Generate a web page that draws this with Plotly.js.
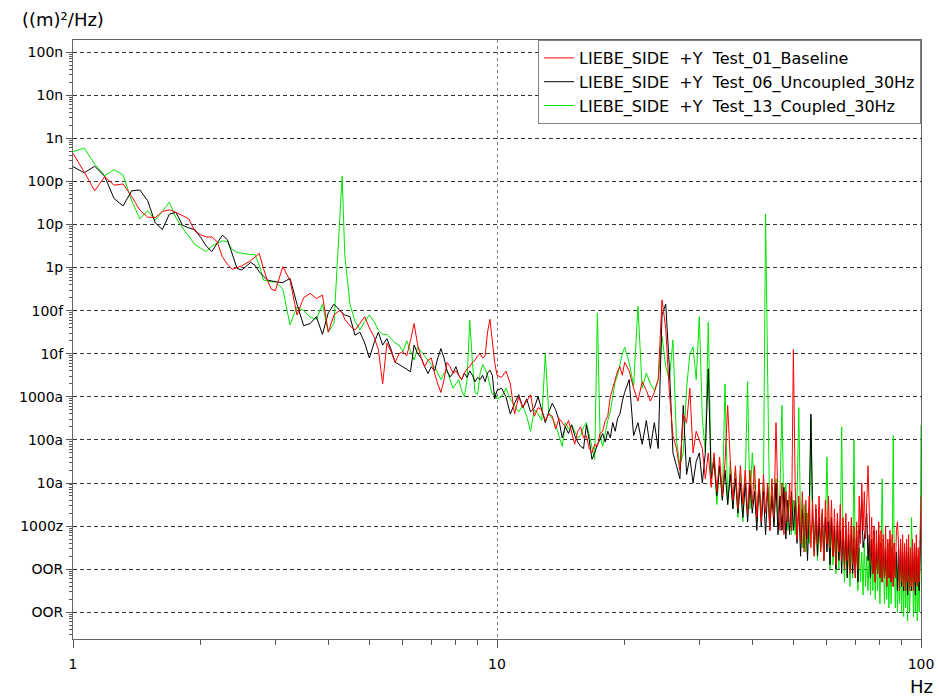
<!DOCTYPE html>
<html>
<head>
<meta charset="utf-8">
<script src="https://cdn.plot.ly/plotly-3.0.1.min.js"></script>
<style>html,body{margin:0;padding:0;background:#fff;}#chart{width:939px;height:697px;}</style>
</head>
<body>
<div id="chart"></div>
<script>
// Frequency axis (Hz)
const freqHz = [
 1,1.0625,1.125,1.1875,1.25,1.3125,1.375,1.4375,1.5,1.5625,1.625,1.6875,1.75,1.8125,1.875,1.9375,2,2.0625,2.125,2.1875,2.25,2.3125,2.375,2.4375,2.5,2.5625,2.625,2.6875,2.75,2.8125,2.875,2.9375,3,
 3.125,3.25,3.375,3.5,3.625,3.75,3.875,4,4.125,4.25,4.3125,4.375,4.5,4.625,4.75,4.875,5,5.125,5.25,5.375,5.5,5.625,5.75,5.875,6,
 6.125,6.25,6.375,6.5,6.625,6.75,6.875,7,7.125,7.25,7.375,7.5,7.625,7.75,7.875,8,8.125,8.25,8.375,8.5,8.625,8.75,8.875,9,9.125,9.25,9.375,9.5,9.625,9.75,9.875,10,
 10.25,10.5,10.75,11,11.25,11.5,11.75,12,12.25,12.5,12.75,13,13.25,13.5,13.75,14,14.25,14.5,14.75,15,15.25,15.5,15.75,16,16.25,16.5,16.75,17,17.25,17.5,17.75,18,18.25,18.5,18.75,19,19.25,19.5,19.75,20,
 20.5,21,21.5,22,22.5,23,23.5,24,24.5,25,25.5,26,26.5,27,27.5,28,28.5,29,29.5,30,30.5,31,31.5,32,32.5,33,33.5,34,34.5,35,35.5,36,36.5,37,37.5,38,38.5,39,39.5,40,
 40.5,41,41.5,42,42.5,43,43.5,44,44.5,45,
 45.5,46,46.5,47,47.5,48,48.5,49,49.5,50,
 50.5,51,51.5,52,52.5,53,53.5,54,54.5,55,
 55.5,56,56.5,57,57.5,58,58.5,59,59.5,60,
 60.5,61,61.5,62,62.5,63,63.5,64,64.5,65,
 65.5,66,66.5,67,67.5,68,68.5,69,69.5,70,
 70.5,71,71.5,72,72.5,73,73.5,74,74.5,75,
 75.5,76,76.5,77,77.5,78,78.5,79,79.5,80,
 80.5,81,81.5,82,82.5,83,83.5,84,84.5,85,
 85.5,86,86.5,87,87.5,88,88.5,89,89.5,90,
 90.5,91,91.5,92,92.5,93,93.5,94,94.5,95,
 95.5,96,96.5,97,97.5,98,98.5,99,99.5,100
];

// PSD values as log10 of ((m)^2/Hz)
const baselineLog10 = [
 -9.35,-9.78,-10.22,-9.89,-10.09,-10.06,-10.35,-10.67,-10.83,-10.84,-10.7,-10.66,-10.72,-10.8,-10.87,-11.15,-11.24,-11.29,-11.29,-11.4,-11.75,-11.92,-12.04,-12.0,-11.96,-11.9,-11.84,-11.76,-11.67,-12.02,-12.3,-12.5,-12.54,
 -11.98,-12.3,-13.1,-12.7,-12.6,-12.72,-12.64,-13.5,-13.1,-13.0,-13.05,-13.2,-13.35,-13.45,-13.3,-13.14,-13.4,-13.6,-13.9,-14.7,-13.75,-13.95,-14.2,-14.0,-13.95,
 -14.05,-13.7,-13.3,-13.8,-14.1,-14.3,-14.15,-14.1,-14.45,-14.7,-14.9,-14.6,-14.2,-14.3,-14.45,-14.4,-14.5,-14.6,-14.45,-14.35,-14.3,-14.2,-14.15,-14.05,-14.0,-14.1,-14.05,-13.5,-13.2,-13.8,-14.2,-14.5,
 -14.55,-14.4,-14.7,-15.4,-15.0,-15.25,-15.1,-14.95,-15.45,-15.25,-15.3,-15.55,-15.4,-15.45,-15.75,-15.5,-15.6,-15.7,-15.55,-15.85,-16.1,-15.8,-15.7,-15.95,-15.9,-16.2,-16.3,-16.1,-16.15,-15.85,-15.8,-15.55,-15.45,-15.0,-14.8,-14.6,-14.4,-14.3,-14.5,-14.2,
 -14.4,-14.8,-15.1,-14.65,-14.85,-15.1,-14.9,-14.6,-12.75,-13.4,-14.9,-15.9,-16.2,-16.7,-15.4,-15.6,-14.8,-16.3,-15.8,-16.0,
 -16.2,-16.9,-16.3,-17.1,-16.3,-17.2,-16.4,-17.3,-16.5,-15.2,-16.5,-17.4,-16.6,-17.6,-16.6,-17.5,-16.7,-17.7,-16.7,-17.5,
 -16.6,-17.8,-16.9,-17.9,-16.8,-17.7,-17.0,-18.1,-16.9,-17.8,
 -15.6,-17.5,-18.1,-17.0,-18.2,-17.2,-17.9,-17.0,-18.1,-13.9,
 -17.1,-18.3,-17.3,-18.4,-17.2,-18.6,-17.4,-18.3,-17.3,-18.5,
 -17.4,-18.7,-17.5,-18.4,-17.3,-18.6,-17.6,-18.8,-17.4,-18.4,
 -17.3,-18.5,-17.4,-18.7,-17.6,-18.9,-17.7,-18.6,-17.5,-18.8,
 -17.8,-19.0,-17.7,-18.8,-17.9,-19.1,-17.8,-18.9,-18.0,-19.2,
 -17.9,-19.0,-17.3,-18.4,-17.0,-18.1,-17.2,-18.3,-17.3,-16.6,
 -17.6,-18.9,-17.8,-19.1,-18.0,-19.3,-18.1,-19.1,-17.9,-19.2,
 -18.1,-19.3,-18.2,-19.2,-18.0,-19.4,-18.3,-19.2,-18.1,-19.3,
 -18.2,-19.4,-18.4,-19.2,-18.1,-17.9,-18.4,-19.5,-18.3,-19.3,
 -18.2,-19.4,-18.4,-19.5,-18.3,-19.3,-18.2,-19.5,-18.5,-19.4,
 -18.3,-19.5,-18.4,-19.3,-18.2,-19.4,-18.5,-19.3,-18.3,-17.3
];
const uncoupledLog10 = [
 -9.66,-9.8,-9.65,-9.88,-10.4,-10.57,-10.22,-10.2,-10.45,-10.96,-11.12,-10.76,-10.72,-11.02,-11.08,-11.12,-11.3,-11.5,-11.63,-11.42,-11.25,-11.35,-11.7,-12.02,-12.06,-11.96,-11.88,-11.95,-12.1,-12.2,-12.29,-12.31,-12.33,
 -12.35,-12.25,-12.85,-13.35,-13.3,-13.14,-13.55,-13.05,-12.85,-13.0,-13.05,-13.1,-13.14,-13.57,-13.5,-13.75,-14.1,-13.76,-13.5,-13.8,-13.65,-13.9,-14.2,-14.25,-14.3,
 -14.36,-14.42,-13.8,-14.0,-14.1,-14.3,-14.46,-14.3,-14.4,-14.1,-13.88,-14.1,-14.4,-14.54,-14.45,-14.3,-14.5,-14.6,-14.45,-14.55,-14.4,-14.5,-14.65,-14.55,-14.6,-14.5,-14.65,-14.45,-14.38,-14.5,-15.05,-14.85,
 -14.8,-15.0,-15.4,-15.15,-14.95,-15.25,-15.05,-15.35,-15.25,-15.0,-15.3,-15.6,-15.35,-15.15,-15.3,-15.55,-15.95,-15.7,-15.85,-15.65,-15.9,-16.05,-16.15,-16.2,-15.65,-16.0,-16.45,-16.3,-16.1,-16.0,-15.85,-16.05,-15.8,-15.95,-15.6,-15.8,-15.5,-15.4,-15.1,-14.9,
 -14.6,-15.9,-15.6,-16.1,-15.55,-16.2,-15.6,-16.2,-13.1,-12.85,-14.3,-16.3,-16.6,-16.9,-15.2,-16.8,-16.4,-17.0,-16.5,-16.3,
 -17.0,-16.3,-14.35,-16.9,-16.5,-17.3,-16.6,-17.4,-16.7,-17.5,-16.8,-17.6,-16.9,-17.7,-17.0,-17.8,-17.0,-17.9,-17.0,-17.7,
 -17.2,-18.1,-17.0,-18.0,-17.2,-18.2,-17.1,-18.1,-17.3,-18.0,
 -17.0,-18.2,-17.3,-18.1,-17.1,-18.3,-17.4,-18.2,-17.2,-18.1,
 -17.4,-18.4,-17.5,-18.7,-17.6,-18.5,-17.7,-18.8,-17.6,-15.4,
 -17.7,-18.6,-17.6,-18.7,-17.8,-18.5,-17.7,-18.8,-17.8,-18.6,
 -17.9,-18.9,-17.8,-18.7,-18.0,-19.0,-17.9,-18.8,-18.1,-19.1,
 -18.0,-18.9,-18.1,-19.2,-18.2,-19.0,-18.0,-19.1,-18.3,-19.2,
 -18.1,-19.3,-18.2,-17.9,-17.4,-18.5,-18.3,-17.9,-17.7,-18.8,
 -18.2,-19.2,-18.3,-19.1,-18.1,-19.3,-18.4,-19.1,-18.2,-19.2,
 -18.4,-19.3,-18.3,-19.2,-18.5,-19.4,-18.4,-19.2,-18.3,-19.3,
 -18.5,-19.4,-18.4,-19.2,-18.6,-19.5,-18.5,-19.3,-18.4,-19.4,
 -18.6,-19.5,-18.5,-19.3,-18.6,-19.6,-18.5,-19.4,-18.7,-19.5,
 -18.5,-19.4,-18.6,-19.6,-18.5,-19.3,-18.7,-19.5,-18.4,-17.8
];
const coupledLog10 = [
 -9.31,-9.23,-9.6,-9.87,-9.73,-9.85,-10.45,-10.87,-10.68,-10.9,-10.7,-10.48,-10.85,-11.08,-11.27,-11.47,-11.55,-11.63,-11.5,-11.44,-11.38,-11.4,-11.58,-11.65,-11.67,-11.68,-11.7,-11.7,-11.95,-12.29,-12.31,-12.33,-12.33,
 -12.5,-13.33,-12.91,-13.0,-13.15,-13.2,-12.85,-13.5,-13.3,-11.0,-9.88,-11.7,-12.85,-13.25,-13.45,-13.25,-13.1,-13.25,-13.45,-13.55,-13.55,-13.65,-13.75,-13.8,-13.95,
 -13.7,-13.95,-14.15,-13.85,-13.95,-14.05,-14.15,-14.25,-14.3,-14.45,-14.6,-14.45,-14.38,-14.6,-14.8,-14.7,-14.6,-14.85,-15.0,-14.6,-13.22,-14.2,-14.9,-14.95,-14.45,-14.25,-14.35,-14.5,-14.7,-14.95,-14.9,-15.05,
 -15.0,-14.8,-15.05,-15.2,-15.35,-15.2,-15.45,-15.8,-15.3,-15.4,-15.55,-14.0,-15.4,-15.5,-15.65,-15.9,-16.15,-15.6,-15.75,-15.65,-15.8,-15.95,-15.9,-15.7,-15.6,-15.9,-16.2,-16.45,-13.06,-15.9,-16.15,-15.8,-15.55,-15.35,-15.0,-14.65,-14.5,-14.25,-14.0,-13.85,
 -14.2,-14.75,-12.9,-14.8,-14.45,-14.7,-14.85,-14.6,-13.6,-14.3,-14.6,-13.68,-16.0,-16.6,-16.3,-14.8,-14.0,-13.84,-14.6,-13.14,
 -15.5,-16.3,-13.27,-16.8,-16.4,-17.5,-16.6,-17.4,-14.7,-17.5,-16.5,-17.6,-16.7,-17.8,-16.8,-17.9,-16.9,-14.65,-17.6,-16.3,
 -17.0,-17.9,-16.9,-17.7,-17.2,-10.76,-14.6,-18.0,-17.0,-17.9,
 -16.9,-18.0,-17.2,-15.2,-17.8,-17.0,-18.1,-17.3,-18.2,-17.4,
 -18.2,-17.4,-15.25,-18.0,-18.5,-17.5,-18.6,-17.7,-18.4,-15.5,
 -17.8,-18.7,-17.7,-18.8,-17.9,-18.6,-17.7,-18.8,-18.0,-16.4,
 -18.1,-19.0,-18.0,-18.9,-18.2,-19.1,-18.1,-19.0,-18.3,-15.7,
 -18.4,-19.3,-18.3,-19.2,-18.4,-19.4,-18.5,-19.2,-16.0,-19.1,
 -18.4,-19.5,-18.5,-19.3,-18.6,-19.6,-18.4,-19.4,-18.7,-19.5,
 -18.5,-19.6,-18.6,-19.5,-18.4,-19.7,-18.7,-19.5,-18.6,-19.8,
 -18.7,-16.9,-18.8,-19.8,-18.7,-19.7,-18.8,-19.9,-18.7,-19.8,
 -18.8,-15.9,-18.9,-19.9,-18.8,-20.0,-18.9,-19.8,-18.7,-20.0,
 -18.9,-20.1,-18.8,-19.9,-19.0,-20.2,-18.9,-20.0,-19.0,-17.8,
 -18.9,-20.1,-19.0,-20.0,-18.8,-20.2,-19.1,-20.0,-18.9,-15.65
];

const seriesNames = [
 'LIEBE_SIDE\u00a0 +Y\u00a0 Test_01_Baseline',
 'LIEBE_SIDE\u00a0 +Y\u00a0 Test_06_Uncoupled_30Hz',
 'LIEBE_SIDE\u00a0 +Y\u00a0 Test_13_Coupled_30Hz'
];
const seriesColors = ['#ff0000', '#000000', '#00e600'];

// Axis tick labels
const xTickVals = [1, 10, 100];
const xTickText = ['1', '10', '100'];
const yTickExp = [-7,-8,-9,-10,-11,-12,-13,-14,-15,-16,-17,-18,-19,-20];
const yTickText = ['100n','10n','1n','100p','10p','1p','100f','10f','1000a','100a','10a','1000z','OOR','OOR'];

const toPsd = arr => arr.map(v => Math.pow(10, v));

const xMinor = [];
[1, 10].forEach(d => { for (let k = 2; k <= 9; k++) xMinor.push(k * d); });
const yMinor = [];
for (let e = -21; e <= -7; e++) { for (let k = 2; k <= 9; k++) yMinor.push(k * Math.pow(10, e)); }

const traces = [
 {x: freqHz, y: toPsd(coupledLog10), name: seriesNames[2], type: 'scatter', mode: 'lines', line: {color: seriesColors[2], width: 1}},
 {x: freqHz, y: toPsd(uncoupledLog10), name: seriesNames[1], type: 'scatter', mode: 'lines', line: {color: seriesColors[1], width: 1}},
 {x: freqHz, y: toPsd(baselineLog10), name: seriesNames[0], type: 'scatter', mode: 'lines', line: {color: seriesColors[0], width: 1}}
];

const layout = {
 width: 939, height: 697,
 margin: {l: 73, r: 18, t: 40, b: 58, pad: 0},
 paper_bgcolor: '#ffffff', plot_bgcolor: '#ffffff',
 font: {family: 'DejaVu Sans, sans-serif', size: 14, color: '#000'},
 showlegend: true,
 legend: {x: 1, y: 1, xanchor: 'right', yanchor: 'top', bgcolor: '#ffffff', bordercolor: '#808080', borderwidth: 1,
   font: {size: 16, color: '#000'}, traceorder: 'reversed', tracegroupgap: 0},
 title: {text: '((m)²/Hz)', x: 22/939, xanchor: 'left', xref: 'container', y: 1 - 20/697, yanchor: 'middle', yref: 'container',
   font: {size: 18, color: '#000'}},
 xaxis: {type: 'log', range: [0, 2], tickmode: 'array', tickvals: xTickVals, ticktext: xTickText,
   ticks: 'outside', ticklen: 8, tickcolor: '#555', tickwidth: 1, ticklabelstandoff: 4,
   showline: true, linecolor: '#666', linewidth: 1, mirror: true, zeroline: false,
   showgrid: true, gridcolor: '#808080', griddash: '3px,3px', gridwidth: 1,
   minor: {tickmode: 'array', tickvals: xMinor, ticks: 'outside', ticklen: 5, tickcolor: '#555', showgrid: false},
   tickfont: {size: 14}},
 yaxis: {type: 'log', range: [-20.62, -6.72], tickmode: 'array', tickvals: yTickExp.map(e => Math.pow(10, e)), ticktext: yTickText,
   ticks: 'outside', ticklen: 6, tickcolor: '#555', tickwidth: 1,
   showline: true, linecolor: '#666', linewidth: 1, mirror: true, zeroline: false,
   showgrid: true, gridcolor: '#333333', griddash: '4px,3px', gridwidth: 1,
   minor: {tickmode: 'array', tickvals: yMinor, ticks: 'outside', ticklen: 3, tickcolor: '#555', showgrid: false},
   tickfont: {size: 14}},
 annotations: [{text: 'Hz', xref: 'paper', yref: 'paper', x: 1, y: 0, xanchor: 'center', yanchor: 'middle', yshift: -47,
   showarrow: false, font: {size: 18, color: '#000'}}]
};

Plotly.newPlot('chart', traces, layout, {displayModeBar: false, staticPlot: true});
</script>
</body>
</html>
